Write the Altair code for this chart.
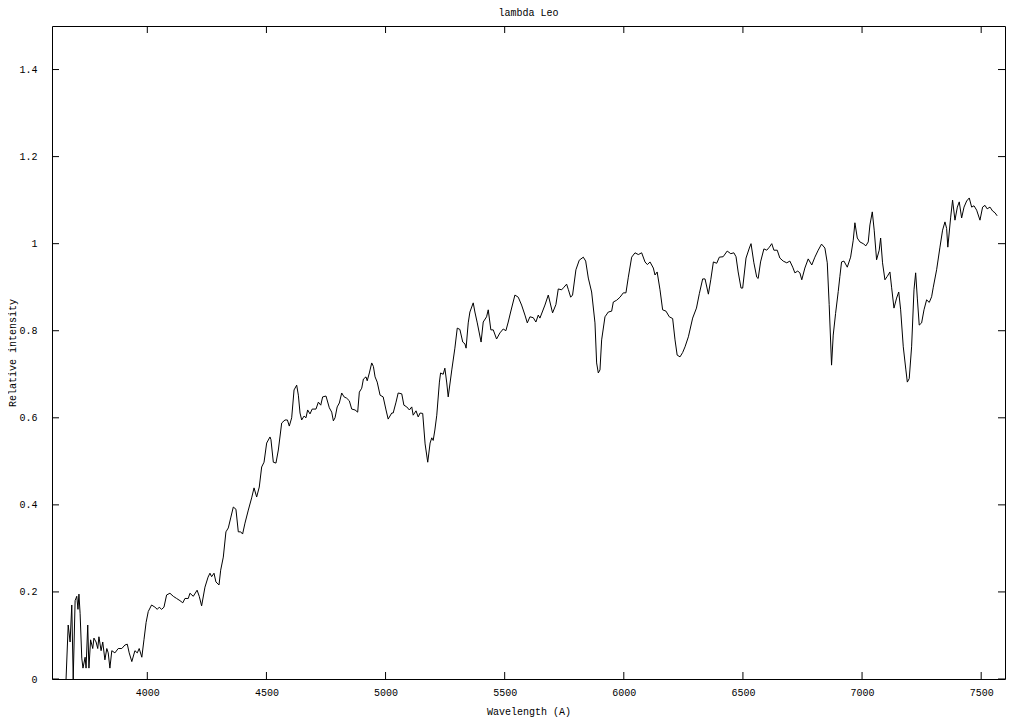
import altair as alt
import pandas as pd

# Spectrum of lambda Leo
wavelength = [
    3659, 3668, 3676, 3683, 3689, 3697, 3704, 3709, 3713, 3718,
    3725, 3730, 3739, 3743, 3750, 3755, 3762, 3771, 3776, 3785,
    3792, 3797, 3806, 3813, 3822, 3830, 3836, 3843, 3851, 3864,
    3878, 3893, 3906, 3916, 3924, 3935, 3948, 3958, 3966, 3977,
    3986, 3995, 4004, 4018, 4032, 4042, 4050, 4060, 4070, 4081,
    4095, 4109, 4123, 4137, 4149, 4158, 4172, 4179, 4193, 4209,
    4218, 4228, 4242, 4255, 4263, 4270, 4280, 4288, 4301, 4308,
    4319, 4330, 4340, 4350, 4361, 4372, 4382, 4392, 4400, 4410,
    4424, 4438, 4448, 4459, 4470, 4480, 4490, 4501, 4515, 4519,
    4529, 4540, 4550, 4564, 4578, 4588, 4596, 4606, 4616, 4627,
    4634, 4641, 4648, 4658, 4666, 4673, 4683, 4692, 4708, 4718,
    4728, 4736, 4750, 4764, 4774, 4781, 4788, 4797, 4806, 4816,
    4826, 4837, 4848, 4858, 4872, 4883, 4890, 4900, 4907, 4918,
    4923, 4932, 4942, 4949, 4956, 4965, 4977, 4990, 5002, 5011,
    5026, 5032, 5044, 5053, 5068, 5077, 5089, 5100, 5110, 5116,
    5128, 5137, 5145, 5156, 5166, 5177, 5187, 5194, 5200, 5207,
    5215, 5226, 5231, 5242, 5249, 5257, 5263, 5278, 5291, 5301,
    5312, 5324, 5333, 5338, 5347, 5354, 5368, 5375, 5385, 5401,
    5410, 5424, 5431, 5442, 5452, 5466, 5480, 5494, 5505, 5515,
    5525, 5543, 5557, 5571, 5585, 5595, 5606, 5620, 5631, 5641,
    5648, 5669, 5683, 5701, 5715, 5725, 5739, 5749, 5760, 5767,
    5777, 5785, 5799, 5813, 5830, 5840, 5851, 5865, 5879, 5886,
    5893, 5900, 5907, 5921, 5935, 5949, 5956, 5970, 5984, 5998,
    6009, 6019, 6033, 6047, 6061, 6075, 6089, 6099, 6110, 6124,
    6131, 6140, 6152, 6163, 6177, 6191, 6205, 6215, 6224, 6236,
    6247, 6257, 6271, 6289, 6305, 6317, 6331, 6341, 6355, 6365,
    6376, 6390, 6401, 6417, 6434, 6449, 6462, 6471, 6480, 6492,
    6499, 6513, 6527, 6534, 6546, 6558, 6564, 6574, 6588, 6600,
    6611, 6621, 6630, 6644, 6655, 6669, 6684, 6697, 6709, 6718,
    6730, 6739, 6747, 6760, 6774, 6789, 6802, 6816, 6830, 6844,
    6854, 6862, 6872, 6879, 6889, 6900, 6907, 6914, 6924, 6938,
    6952, 6963, 6970, 6980, 6991, 7005, 7016, 7026, 7033, 7043,
    7051, 7061, 7072, 7078, 7086, 7096, 7106, 7117, 7124, 7134,
    7145, 7154, 7162, 7173, 7184, 7190, 7198, 7208, 7218, 7225,
    7232, 7240, 7250, 7260, 7271, 7282, 7292, 7299, 7313, 7327,
    7338, 7348, 7355, 7360, 7372, 7380, 7390, 7400, 7408, 7418,
    7428, 7439, 7450, 7460, 7470, 7481, 7495, 7506, 7516, 7525,
    7537, 7548, 7558, 7567,
]

intensity = [
    0.0, 0.124, 0.085, 0.17, 0.0, 0.18, 0.19, 0.16, 0.195, 0.15,
    0.048, 0.025, 0.05, 0.025, 0.124, 0.025, 0.09, 0.07, 0.094, 0.085,
    0.07, 0.097, 0.065, 0.085, 0.044, 0.07, 0.06, 0.025, 0.065, 0.06,
    0.07, 0.07, 0.078, 0.08, 0.06, 0.04, 0.065, 0.06, 0.07, 0.05,
    0.09, 0.13, 0.155, 0.17, 0.165, 0.16, 0.165, 0.16, 0.165, 0.193,
    0.197, 0.19, 0.185, 0.18, 0.175, 0.185, 0.185, 0.197, 0.19, 0.204,
    0.19, 0.168, 0.211, 0.234, 0.243, 0.235, 0.243, 0.223, 0.216, 0.25,
    0.28, 0.338, 0.347, 0.37, 0.395, 0.39, 0.338, 0.338, 0.333, 0.358,
    0.388, 0.416, 0.439, 0.418, 0.441, 0.487, 0.498, 0.542, 0.556, 0.55,
    0.498, 0.496, 0.526, 0.588, 0.595, 0.595, 0.581, 0.6, 0.664, 0.675,
    0.652, 0.611, 0.595, 0.604, 0.6, 0.618, 0.609, 0.62, 0.62, 0.636,
    0.629, 0.648, 0.65, 0.623, 0.613, 0.593, 0.6, 0.625, 0.634, 0.657,
    0.648, 0.645, 0.639, 0.62, 0.618, 0.613, 0.659, 0.668, 0.689, 0.694,
    0.685, 0.703, 0.726, 0.718, 0.694, 0.682, 0.652, 0.648, 0.618, 0.597,
    0.611, 0.611, 0.636, 0.657, 0.655, 0.629, 0.625, 0.618, 0.625, 0.606,
    0.616, 0.602, 0.611, 0.61, 0.54, 0.498, 0.542, 0.554, 0.548, 0.572,
    0.606, 0.682, 0.703, 0.7, 0.714, 0.68, 0.648, 0.71, 0.76, 0.806,
    0.803, 0.774, 0.77, 0.76, 0.818, 0.843, 0.864, 0.843, 0.818, 0.774,
    0.82, 0.832, 0.848, 0.802, 0.802, 0.781, 0.795, 0.804, 0.8, 0.82,
    0.843, 0.882, 0.877, 0.859, 0.836, 0.818, 0.832, 0.83, 0.82, 0.836,
    0.829, 0.859, 0.882, 0.841, 0.86, 0.896, 0.894, 0.9, 0.907, 0.895,
    0.877, 0.882, 0.94, 0.962, 0.969, 0.96, 0.921, 0.889, 0.818, 0.726,
    0.703, 0.71, 0.779, 0.832, 0.843, 0.845, 0.866, 0.87, 0.877, 0.887,
    0.887, 0.923, 0.969, 0.979, 0.975, 0.979, 0.958, 0.952, 0.958, 0.944,
    0.928, 0.935, 0.894, 0.848, 0.845, 0.832, 0.828, 0.779, 0.744, 0.74,
    0.75, 0.763, 0.786, 0.829, 0.852, 0.885, 0.919, 0.919, 0.884, 0.917,
    0.958, 0.955, 0.969, 0.97, 0.983, 0.977, 0.979, 0.97, 0.935, 0.898,
    0.898, 0.967, 0.99, 1.0, 0.956, 0.923, 0.92, 0.958, 0.988, 0.985,
    0.992, 1.0, 0.985, 0.985, 0.967, 0.96, 0.956, 0.96, 0.946, 0.933,
    0.937, 0.933, 0.917, 0.944, 0.965, 0.951, 0.969, 0.985, 0.999, 0.99,
    0.956, 0.86, 0.721, 0.79, 0.84, 0.89, 0.925, 0.958, 0.96, 0.946,
    0.969, 1.008, 1.048, 1.013, 1.004, 1.0, 0.995, 1.004, 1.043, 1.073,
    1.031, 0.963, 0.985, 1.013, 0.956, 0.917, 0.925, 0.935, 0.9, 0.852,
    0.875, 0.889, 0.848, 0.763, 0.71, 0.682, 0.69, 0.763, 0.894, 0.933,
    0.875, 0.813, 0.818, 0.848, 0.871, 0.865, 0.878, 0.9, 0.94, 0.992,
    1.031, 1.05, 1.035, 0.992, 1.061, 1.1, 1.054, 1.084, 1.096, 1.059,
    1.084, 1.098, 1.105, 1.084, 1.087, 1.077, 1.054, 1.084, 1.088, 1.08,
    1.084, 1.075, 1.071, 1.064,
]

x_ticks = [4000, 4500, 5000, 5500, 6000, 6500, 7000, 7500]
y_ticks = [0, 0.2, 0.4, 0.6, 0.8, 1.0, 1.2, 1.4]
x_domain = [3600, 7600]
y_domain = [0, 1.5]

n = min(len(wavelength), len(intensity))
spec = pd.DataFrame({"wavelength": wavelength[:n], "intensity": intensity[:n]})
xt = pd.DataFrame({"wavelength": x_ticks})
yt = pd.DataFrame({"intensity": y_ticks})

W, H = 953, 653
TL = 7
FONT = "Liberation Mono"

xscale = alt.Scale(domain=x_domain, nice=False, zero=False)
yscale = alt.Scale(domain=y_domain, nice=False, zero=False)

x_enc = alt.X(
    "wavelength:Q", scale=xscale,
    axis=alt.Axis(values=x_ticks, format="d", title="Wavelength (A)",
                  titleX=W / 2, titleY=32, titleBaseline="middle", titleAlign="center",
                  labelPadding=8),
)
y_enc = alt.Y(
    "intensity:Q", scale=yscale,
    axis=alt.Axis(values=y_ticks, format="~g", title="Relative intensity",
                  titleX=-40, titleY=H / 2, titleBaseline="middle", titleAlign="center",
                  labelPadding=15),
)

line = alt.Chart(spec).mark_line(color="black", strokeWidth=1, clip=True).encode(
    x=x_enc, y=y_enc
)

tick_bottom = alt.Chart(xt).mark_rule(color="black", strokeWidth=1).encode(
    x=x_enc, y=alt.value(H), y2=alt.value(H - TL)
)
tick_top = alt.Chart(xt).mark_rule(color="black", strokeWidth=1).encode(
    x=x_enc, y=alt.value(0), y2=alt.value(TL)
)
tick_left = alt.Chart(yt).mark_rule(color="black", strokeWidth=1).encode(
    y=y_enc, x=alt.value(0), x2=alt.value(TL)
)
tick_right = alt.Chart(yt).mark_rule(color="black", strokeWidth=1).encode(
    y=y_enc, x=alt.value(W), x2=alt.value(W - TL)
)

chart = (
    alt.layer(line, tick_bottom, tick_top, tick_left, tick_right)
    .properties(
        width=W, height=H,
        title=alt.TitleParams("lambda Leo", font=FONT, fontSize=10, fontWeight="normal",
                              color="black", anchor="middle", offset=8),
        autosize=alt.AutoSizeParams(type="none"),
        padding={"left": 44, "top": 18, "right": 11, "bottom": 38},
        background="white",
    )
    .configure_view(stroke="black", strokeWidth=1)
    .configure_axis(
        domain=False, ticks=False, grid=False,
        labelFont=FONT, labelFontSize=10, labelColor="black",
        titleFont=FONT, titleFontSize=10, titleFontWeight="normal", titleColor="black",
    )
)

chart.save("out.html", embed_options={"renderer": "svg", "actions": False})
